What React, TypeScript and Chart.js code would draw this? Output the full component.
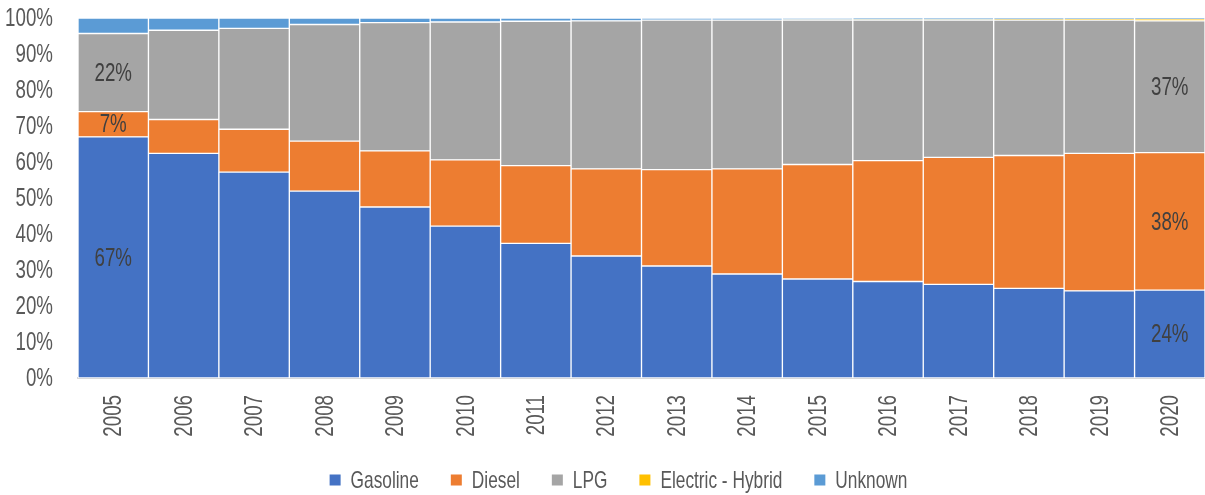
import React, { useEffect, useRef } from "react";
import { Chart, registerables } from "chart.js";

Chart.register(...registerables);

const years = ["2005", "2006", "2007", "2008", "2009", "2010", "2011", "2012", "2013", "2014", "2015", "2016", "2017", "2018", "2019", "2020"];
const gasoline = [67.0, 62.4, 57.2, 51.9, 47.5, 42.2, 37.4, 33.9, 31.1, 28.9, 27.5, 26.8, 26.0, 24.9, 24.2, 24.4];
const diesel = [7.0, 9.4, 11.9, 13.9, 15.6, 18.4, 21.6, 24.2, 26.8, 29.2, 31.8, 33.6, 35.3, 36.9, 38.2, 38.2];
const lpg = [21.7, 24.8, 28.0, 32.4, 35.6, 38.3, 40.1, 41.1, 41.5, 41.3, 40.1, 39.0, 38.1, 37.6, 37.0, 36.6];
const electricHybrid = [0, 0, 0, 0, 0, 0, 0, 0, 0, 0, 0.05, 0.1, 0.1, 0.15, 0.2, 0.6];
const unknown = [4.3, 3.4, 2.9, 1.8, 1.3, 1.1, 0.9, 0.8, 0.6, 0.6, 0.55, 0.5, 0.5, 0.45, 0.4, 0.2];
const seriesNames = ["Gasoline", "Diesel", "LPG", "Electric - Hybrid", "Unknown"];
const seriesColors = ["#4472C4", "#ED7D31", "#A5A5A5", "#FFC000", "#5B9BD5"];
const yTickValues = [0, 10, 20, 30, 40, 50, 60, 70, 80, 90, 100];
const labeledSeries = [0, 1, 2];
const labeledYears = [0, 15];

const FAMILY = "'Liberation Sans', Arial, sans-serif";
const SQUEEZE = 0.72;

function drawSqueezed(ctx: CanvasRenderingContext2D, text: string, x: number, y: number, align: CanvasTextAlign, rotate = 0) {
  ctx.save();
  ctx.translate(x, y);
  if (rotate) ctx.rotate(rotate);
  ctx.scale(SQUEEZE, 1);
  ctx.textAlign = align;
  ctx.fillText(text, 0, 0);
  ctx.restore();
}

export default function App() {
  const ref = useRef<HTMLCanvasElement>(null);

  useEffect(() => {
    if (!ref.current) return;
    const values = [gasoline, diesel, lpg, electricHybrid, unknown];

    const textPlugin = {
      id: "condensedText",
      afterDatasetsDraw(chart: any) {
        const ctx: CanvasRenderingContext2D = chart.ctx;
        const xs = chart.scales.x;
        const ys = chart.scales.y;
        ctx.save();
        ctx.textBaseline = "middle";

        // segment value labels
        ctx.font = `26px ${FAMILY}`;
        ctx.fillStyle = "#404040";
        labeledSeries.forEach((di) => {
          const meta = chart.getDatasetMeta(di);
          labeledYears.forEach((i) => {
            const el = meta.data[i];
            if (!el) return;
            const v = chart.data.datasets[di].data[i] as number;
            const p = el.getProps(["x", "y", "base"], true);
            drawSqueezed(ctx, Math.round(v) + "%", p.x, (p.y + p.base) / 2 + 1, "center");
          });
        });

        // y tick labels
        ctx.fillStyle = "#595959";
        ctx.font = `26px ${FAMILY}`;
        yTickValues.forEach((v) => {
          drawSqueezed(ctx, v + "%", ys.left + ys.width - 25, ys.getPixelForValue(v) + 1, "right");
        });

        // x tick labels (rotated, reading bottom to top)
        ctx.font = `26px ${FAMILY}`;
        years.forEach((label, i) => {
          drawSqueezed(ctx, label, xs.getPixelForTick(i) + 1, xs.top + 17, "right", -Math.PI / 2);
        });

        // legend
        ctx.font = `24px ${FAMILY}`;
        const box = 11;
        const boxGap = 10;
        const itemGap = 32;
        const widths = seriesNames.map((n) => ctx.measureText(n).width * SQUEEZE);
        const total = widths.reduce((a, w) => a + box + boxGap + w, 0) + itemGap * (seriesNames.length - 1);
        let x = chart.width / 2 + 16 - total / 2;
        const cy = 480;
        seriesNames.forEach((n, k) => {
          ctx.fillStyle = seriesColors[k];
          ctx.fillRect(x, cy - box / 2, box, box);
          x += box + boxGap;
          ctx.fillStyle = "#595959";
          drawSqueezed(ctx, n, x, cy + 1, "left");
          x += widths[k] + itemGap;
        });

        ctx.restore();
      },
    };

    const chart = new Chart(ref.current, {
      type: "bar",
      data: {
        labels: years,
        datasets: seriesNames.map((name, k) => ({
          label: name,
          data: values[k],
          backgroundColor: seriesColors[k],
          borderColor: "#ffffff",
          borderWidth: 1,
          borderSkipped: false,
          barPercentage: 1,
          categoryPercentage: 1,
        })),
      },
      options: {
        animation: false,
        responsive: true,
        maintainAspectRatio: false,
        layout: { padding: { top: 18, left: 0, right: 0, bottom: 0 } },
        plugins: {
          tooltip: { enabled: false },
          legend: { display: false },
        },
        scales: {
          x: {
            stacked: true,
            grid: { display: false, drawTicks: false },
            border: { display: true, color: "#d9d9d9", width: 2 },
            ticks: { display: false },
            afterFit: (scale: any) => {
              scale.height = 117;
            },
          },
          y: {
            stacked: true,
            min: 0,
            max: 100,
            grid: { display: false, drawTicks: false },
            border: { display: false },
            ticks: { display: false, stepSize: 10 },
            afterFit: (scale: any) => {
              scale.width = 78;
            },
          },
        },
      },
      plugins: [textPlugin],
    });

    return () => chart.destroy();
  }, []);

  return (
    <div style={{ position: "fixed", left: 0, top: 0, width: 1205, height: 495, background: "#ffffff" }}>
      <canvas ref={ref} />
    </div>
  );
}
